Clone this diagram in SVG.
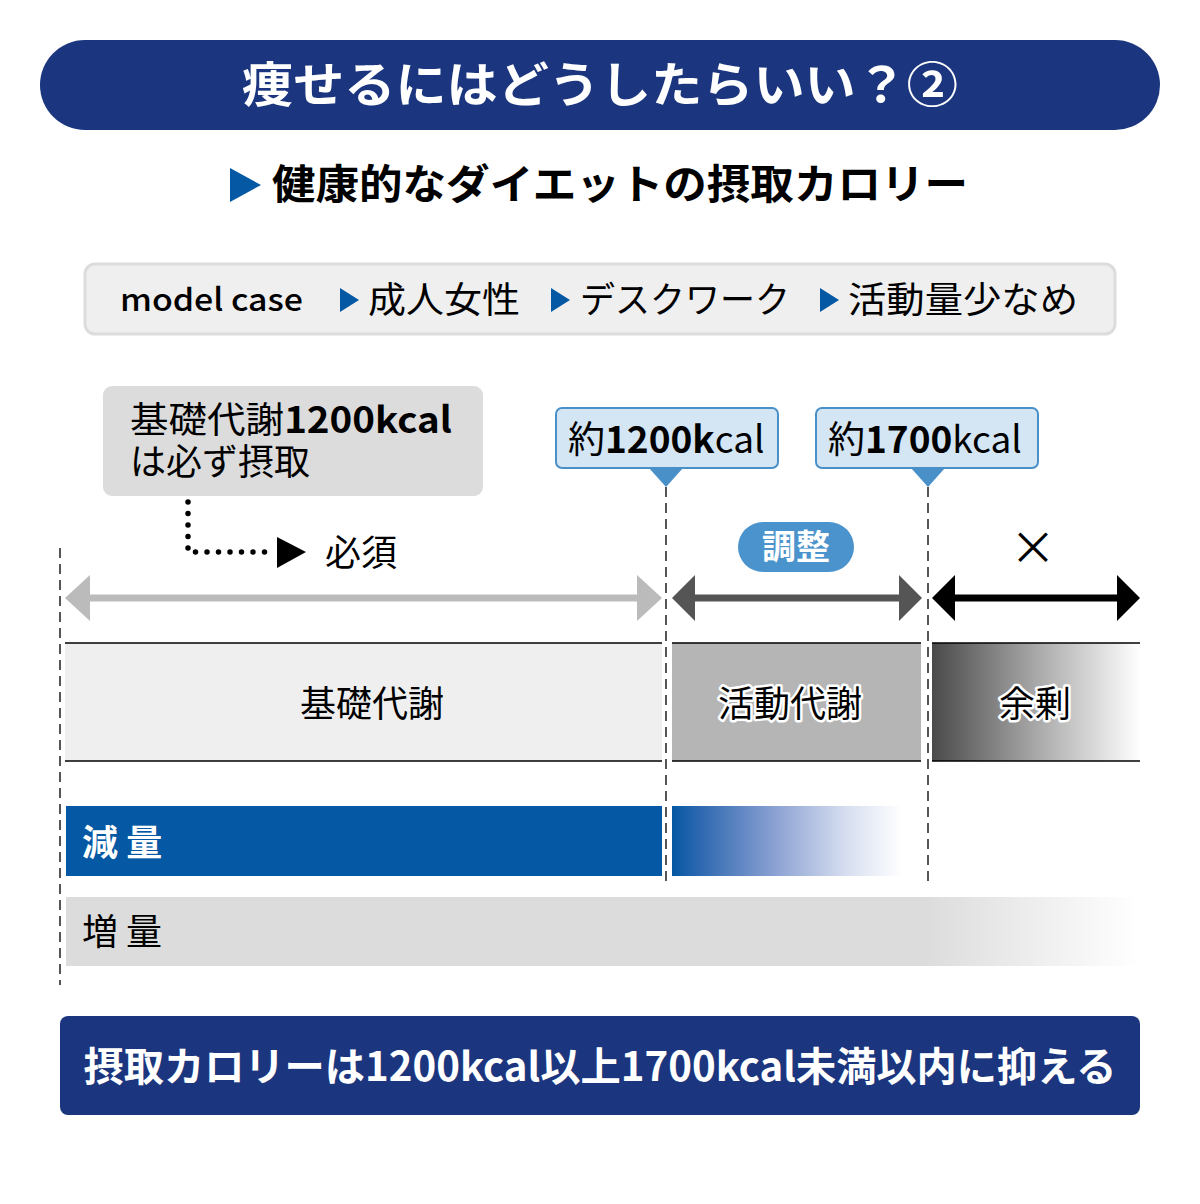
<svg xmlns="http://www.w3.org/2000/svg" width="1200" height="1204" viewBox="0 0 1200 1204">
<defs>
<style>
text{font-family:"Noto Sans CJK JP","Noto Sans",sans-serif;}
.w{fill:#fff;}
.b{font-weight:700;}
.dash{stroke:#555;stroke-width:2;stroke-dasharray:10 6;fill:none;}
.halo{paint-order:stroke;stroke:#fff;stroke-width:5;stroke-linejoin:round;}
.edge{stroke:#000;stroke-width:1.6;}
</style>
<linearGradient id="gSur" x1="0" y1="0" x2="1" y2="0">
<stop offset="0" stop-color="#4a4a4a"/>
<stop offset="0.5" stop-color="#a8a8a8"/>
<stop offset="1" stop-color="#ffffff"/>
</linearGradient>
<linearGradient id="gRed" x1="0" y1="0" x2="1" y2="0">
<stop offset="0" stop-color="#0558a3"/>
<stop offset="0.12" stop-color="#2d68b0"/>
<stop offset="0.45" stop-color="#8ca2d3"/>
<stop offset="0.75" stop-color="#d5ddef"/>
<stop offset="1" stop-color="#ffffff"/>
</linearGradient>
<linearGradient id="gInc" x1="0" y1="0" x2="1" y2="0">
<stop offset="0" stop-color="#dcdcdc"/>
<stop offset="0.8" stop-color="#dcdcdc"/>
<stop offset="1" stop-color="#ffffff"/>
</linearGradient>
</defs>
<rect width="1200" height="1204" fill="#fff"/>

<g id="title">
<rect x="40" y="40" width="1120" height="90" rx="45" fill="#1b367e"/>
<text x="600" y="102" text-anchor="middle" class="w b" font-size="48" textLength="716" lengthAdjust="spacingAndGlyphs">痩せるにはどうしたらいい？②</text>
</g>

<g id="subtitle">
<polygon points="230,168 261,185 230,202" fill="#0558a3"/>
<text x="272" y="199" class="b" font-size="41" textLength="696" lengthAdjust="spacingAndGlyphs">健康的なダイエットの摂取カロリー</text>
</g>

<g id="model-case">
<rect x="85" y="264" width="1030" height="70" rx="10" fill="#efefef" stroke="#dcdcdc" stroke-width="3"/>
<text x="120" y="311" font-size="31" font-weight="500" textLength="183" lengthAdjust="spacingAndGlyphs">model case</text>
<polygon points="340,288 359,300 340,312" fill="#0558a3"/>
<text x="368" y="313" font-size="36" textLength="152" lengthAdjust="spacingAndGlyphs">成人女性</text>
<polygon points="551,288 570,300 551,312" fill="#0558a3"/>
<text x="580" y="313" font-size="36" textLength="210" lengthAdjust="spacingAndGlyphs">デスクワーク</text>
<polygon points="820,288 839,300 820,312" fill="#0558a3"/>
<text x="848" y="313" font-size="36" textLength="230" lengthAdjust="spacingAndGlyphs">活動量少なめ</text>
</g>

<g id="note-basal">
<rect x="103" y="386" width="380" height="110" rx="9" fill="#dcdcdc"/>
<text font-size="36"><tspan x="130" y="433" textLength="322" lengthAdjust="spacingAndGlyphs">基礎代謝<tspan class="b">1200kcal</tspan></tspan><tspan x="130" y="475">は必ず摂取</tspan></text>
</g>

<g id="label-required">
<polygon points="277,537 306,552 277,568" fill="#000"/>
<text x="325" y="566" font-size="36">必須</text>
</g>

<g id="callout-1200">
<rect x="556" y="408" width="222" height="60" rx="6" fill="#d4e6f4" stroke="#4a90c8" stroke-width="2"/>
<polygon points="649,468 683,468 666,487" fill="#4a90c8"/>
<text x="568" y="453" font-size="37">約<tspan class="b">1200k</tspan>cal</text>
</g>

<g id="callout-1700">
<rect x="816" y="408" width="222" height="60" rx="6" fill="#d4e6f4" stroke="#4a90c8" stroke-width="2"/>
<polygon points="911,468 945,468 928,487" fill="#4a90c8"/>
<text x="828" y="453" font-size="37">約<tspan class="b">1700</tspan>kcal</text>
</g>

<g id="label-adjust">
<rect x="738" y="522" width="116" height="50" rx="25" fill="#4b93cc"/>
<text x="796" y="559" text-anchor="middle" class="w b" font-size="34">調整</text>
</g>

<g id="label-no">
<text x="1033" y="564" text-anchor="middle" font-size="46">×</text>
</g>

<g id="bar-basal">
<rect x="65" y="643" width="597" height="118" fill="#efefef"/>
<line x1="65" y1="643" x2="662" y2="643" class="edge"/>
<line x1="65" y1="761" x2="662" y2="761" class="edge"/>
<text x="372" y="717" text-anchor="middle" font-size="36">基礎代謝</text>
</g>

<g id="bar-activity">
<rect x="672" y="643" width="249" height="118" fill="#b5b5b5"/>
<line x1="672" y1="643" x2="921" y2="643" class="edge"/>
<line x1="672" y1="761" x2="921" y2="761" class="edge"/>
<text x="790" y="717" text-anchor="middle" font-size="36" class="halo">活動代謝</text>
</g>

<g id="bar-surplus">
<rect x="932" y="643" width="208" height="118" fill="url(#gSur)"/>
<line x1="932" y1="643" x2="1140" y2="643" class="edge"/>
<line x1="932" y1="761" x2="1140" y2="761" class="edge"/>
<text x="1035" y="717" text-anchor="middle" font-size="36" class="halo">余剰</text>
</g>

<g id="bar-reduce">
<rect x="66" y="806" width="596" height="70" fill="#0558a3"/>
<rect x="672" y="806" width="230" height="70" fill="url(#gRed)"/>
<text x="82" y="856" class="w b" font-size="36">減 量</text>
</g>

<g id="bar-increase">
<rect x="66" y="897" width="1074" height="69" fill="url(#gInc)"/>
<text x="82" y="945" font-size="36">増 量</text>
</g>

<g id="summary">
<rect x="60" y="1016" width="1080" height="99" rx="8" fill="#1b367e"/>
<text x="600" y="1081" text-anchor="middle" class="w b" font-size="40" textLength="1033" lengthAdjust="spacingAndGlyphs">摂取カロリーは1200kcal以上1700kcal未満以内に抑える</text>
</g>

<g id="connectors">
<line x1="60" y1="548" x2="60" y2="985" class="dash"/>
<line x1="666" y1="487" x2="666" y2="885" class="dash"/>
<line x1="928" y1="487" x2="928" y2="885" class="dash"/>
<polyline points="188,502 188,552 272,552" fill="none" stroke="#000" stroke-width="5.5" stroke-linecap="round" stroke-dasharray="0 11.5"/>
<line x1="85" y1="598" x2="642" y2="598" stroke="#bbbbbb" stroke-width="7"/>
<polygon points="65,598 90,575 90,621" fill="#bbbbbb"/>
<polygon points="662,598 637,575 637,621" fill="#bbbbbb"/>
<line x1="690" y1="598" x2="904" y2="598" stroke="#555" stroke-width="7"/>
<polygon points="672,598 695,575 695,621" fill="#555"/>
<polygon points="922,598 899,575 899,621" fill="#555"/>
<line x1="950" y1="598" x2="1122" y2="598" stroke="#000" stroke-width="7"/>
<polygon points="932,598 955,575 955,621" fill="#000"/>
<polygon points="1140,598 1117,575 1117,621" fill="#000"/>
</g>
</svg>
